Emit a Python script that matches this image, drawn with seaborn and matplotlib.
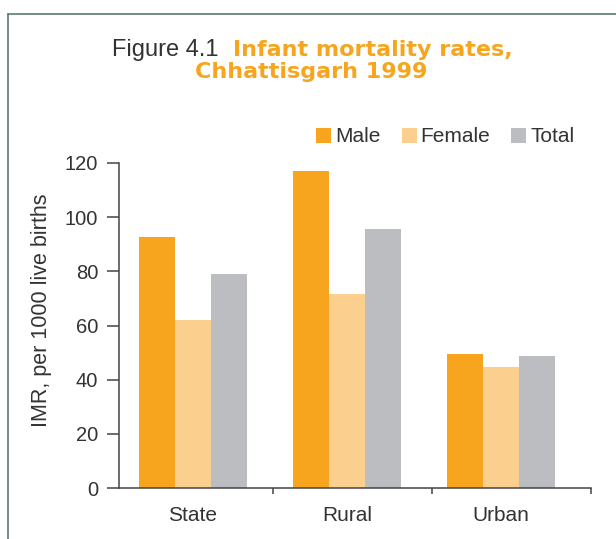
import pandas as pd
import matplotlib
matplotlib.use("Agg")
import matplotlib.pyplot as plt
from matplotlib.lines import Line2D
import seaborn as sns

# dados
regions = ["State", "Rural", "Urban"]
groups = ["Male", "Female", "Total"]
male = [92.5, 117.0, 49.3]
female = [62.0, 71.5, 44.5]
total = [79.0, 95.5, 48.8]
yticks = [0, 20, 40, 60, 80, 100, 120]

colors = ["#F7A51E", "#FBCF8E", "#BCBDC1"]

df = pd.DataFrame({
    "region": regions * 3,
    "group": [g for g in groups for _ in regions],
    "imr": male + female + total,
})

sns.set_style("white")
plt.rcParams["font.family"] = ["Liberation Sans", "DejaVu Sans"]
txt = "#333333"

fig = plt.figure(figsize=(6.16, 5.39), dpi=100)
ax = fig.add_axes([0.193, 0.0946, 0.766, 0.603])

sns.barplot(data=df, x="region", y="imr", hue="group", palette=colors,
            width=0.7, saturation=1, linewidth=0, ax=ax, errorbar=None)

ax.set_ylim(0, 120)
ax.set_xlim(-0.48, 2.584)
ax.set_yticks(yticks)
ax.set_xlabel("")
ax.set_ylabel("IMR, per 1000 live births", fontsize=15.5, color=txt)
ax.yaxis.set_label_coords(-0.141, 0.548)

for s in ["top", "right"]:
    ax.spines[s].set_visible(False)
for s in ["left", "bottom"]:
    ax.spines[s].set_color("#444444")
    ax.spines[s].set_linewidth(1.1)

ax.tick_params(axis="y", direction="out", length=9, width=1.1, color="#444444",
               labelsize=14.5, labelcolor=txt, pad=6, left=True)
ax.tick_params(axis="x", which="major", length=0, labelsize=15, labelcolor=txt, pad=13)
ax.set_xticks([0.52, 1.55, 2.584], minor=True)
ax.tick_params(axis="x", which="minor", direction="out", length=4, width=1.1,
               color="#444444", bottom=True)

leg = ax.legend(loc="center", bbox_to_anchor=(0.723, 0.746),
                bbox_transform=fig.transFigure, ncol=3, frameon=False,
                fontsize=15, handlelength=0.72, handleheight=0.72,
                handletextpad=0.2, columnspacing=1.0, borderpad=0)
for t in leg.get_texts():
    t.set_color(txt)

# título
fig.text(0.355, 0.896, "Figure 4.1", ha="right", va="baseline",
         fontsize=17, color=txt, family=["Liberation Sans"])
fig.text(0.378, 0.896, "Infant mortality rates,", ha="left", va="baseline",
         fontsize=16, color="#F7A51E", weight="bold", family=["DejaVu Sans"])
fig.text(0.505, 0.855, "Chhattisgarh 1999", ha="center", va="baseline",
         fontsize=16, color="#F7A51E", weight="bold", family=["DejaVu Sans"])

# moldura
frame = "#5B7A6B"
fig.add_artist(Line2D([8 / 616, 1], [1 - 14 / 539, 1 - 14 / 539], color=frame, lw=1.2))
fig.add_artist(Line2D([8 / 616, 8 / 616], [0, 1 - 14 / 539], color=frame, lw=1.2))

fig.savefig("out.png", dpi=100)
